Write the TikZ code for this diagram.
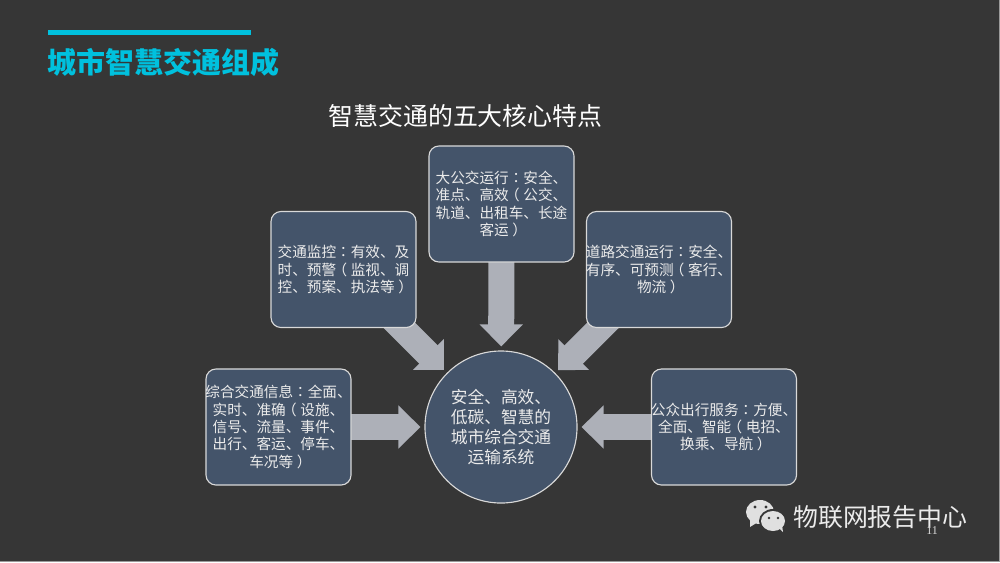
\documentclass[tikz,border=0pt]{standalone}
\usepackage{fontspec}
\usetikzlibrary{arrows.meta,backgrounds}
\setmainfont{Noto Sans CJK SC}
\newfontfamily\pagenofont{Liberation Serif}
\newfontfamily\centredfont{Noto Sans CJK TC}
\newcommand{\zcolon}{{\centredfont ：}}
\newcommand{\zopen}{\makebox[1em][l]{\hspace{-.25em}（}}
\newcommand{\zclose}{\makebox[1em][l]{\hspace{.25em}）}}
\definecolor{slidegray}{HTML}{363636}
\definecolor{boxblue}{HTML}{44546A}
\definecolor{boxline}{HTML}{D9D9D9}
\definecolor{flowgray}{HTML}{ADB0B8}
\definecolor{titlecyan}{HTML}{00C1DE}
\definecolor{edgegray}{HTML}{9A9A9A}
\tikzset{
    topic/.style={rectangle,draw=boxline,fill=boxblue,line width=.8pt,rounded corners=.25cm,
        minimum width=3.625cm,minimum height=2.9cm,inner xsep=-10pt,align=center,text=white!92!black,
        font=\fontsize{10.4pt}{12.3pt}\selectfont},
    hub/.style={circle,draw=boxline,fill=boxblue,line width=.8pt,minimum size=3.8cm,inner sep=0pt,
        align=center,text=white!92!black,font=\fontsize{11.9pt}{14.3pt}\selectfont},
    flow/.style={draw=flowgray,line width=.65cm,shorten >=.1cm,
        -{Triangle[length=.55cm,width=1.05cm,flowgray]}}
}
\begin{document}
\begin{tikzpicture}[x=.025cm,y=-.025cm]
        \draw (48,30) node[rectangle,fill=titlecyan,minimum width=5.075cm,minimum height=.125cm,inner sep=0pt,anchor=north west] (bar) {};
        \draw (47,62) node[anchor=west,inner sep=0pt,text=titlecyan,font=\fontsize{20.6pt}{24pt}\selectfont\bfseries] (title) {城市智慧交通组成};
        \draw (465.5,116) node[inner sep=0pt,text=white,font=\fontsize{17.7pt}{21pt}\selectfont] (heading) {智慧交通的五大核心特点};

        \draw (501,427) node[hub] (core) {安全、高效、\\低碳、智慧的\\城市综合交通\\运输系统};
        \draw (278.5,427) node[topic] (info) {综合交通信息\zcolon 全面、\\实时、准确\zopen 设施、\\信号、流量、事件、\\出行、客运、停车、\\车况等\zclose};
        \draw (343.5,269.5) node[topic] (monitor) {交通监控\zcolon 有效、及\\时、预警\zopen 监视、调\\控、预案、执法等\zclose};
        \draw (501.5,204) node[topic] (bus) {大公交运行\zcolon 安全、\\准点、高效\zopen 公交、\\轨道、出租车、长途\\客运\zclose};
        \draw (659,269.5) node[topic] (road) {道路交通运行\zcolon 安全、\\有序、可预测\zopen 客行、\\物流\zclose};
        \draw (724,427) node[topic] (public) {公众出行服务\zcolon 方便、\\全面、智能\zopen 电招、\\换乘、导航\zclose};

        \begin{scope}[on background layer]
        \fill[slidegray] (0,0) rectangle (1000,562);
        \fill[edgegray] (0,561) rectangle (1000,562);
        \fill[edgegray] (999,0) rectangle (1000,562);
        \draw[flow] (info.center) -- (core);
        \draw[flow] (monitor.center) -- (core);
        \draw[flow] (bus.center) -- (core);
        \draw[flow] (road.center) -- (core);
        \draw[flow] (public.center) -- (core);
        \end{scope}

        \fill[white!88!black] (760,512) ellipse (14 and 12);
        \fill[white!88!black] (750,519) -- (750,527) -- (758,522) -- cycle;
        \fill[slidegray] (773,521) ellipse (14 and 12);
        \fill[white!88!black] (773,521) ellipse (12 and 10);
        \fill[white!88!black] (778,527) -- (783,532) -- (782,525) -- cycle;
        \fill[slidegray] (755,507) circle (1.6) (766,507) circle (1.6) (769,518) circle (1.3) (778,518) circle (1.3);
        \draw (793,517) node[anchor=west,inner sep=0pt,text=white!92!black,font=\fontsize{17.7pt}{21pt}\selectfont] (brand) {物联网报告中心};
        \draw (932,531) node[inner sep=0pt,text=white!85!black,font=\pagenofont\fontsize{8.5pt}{10pt}\selectfont] (pageno) {11};
\end{tikzpicture}
\end{document}
